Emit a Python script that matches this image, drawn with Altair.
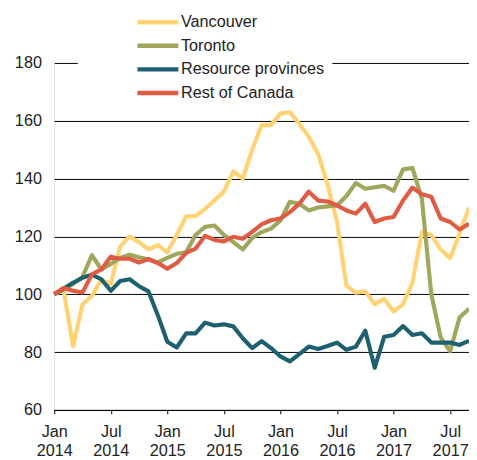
import altair as alt
import pandas as pd

# ---- data (monthly index, Jan 2014 = 100) ----
series_names = ["Vancouver", "Toronto", "Resource provinces", "Rest of Canada"]
series_colors = ["#FFD374", "#A0A65B", "#1E6070", "#DF5B44"]

month_idx = list(range(45))  # Jan 2014 ... Sep 2017

vancouver = [100, 101.5, 82, 96.5, 99.5, 105, 103.5, 116.5, 120, 118, 115.5, 117, 114.5, 120.5, 127,
             127, 129.5, 132.5, 135.5, 142.5, 140, 150, 158.5, 158.5, 162.5, 163, 159, 154.5, 148.5, 138,
             125, 103, 100.5, 101, 96.5, 98.5, 94, 96.5, 104, 121.5, 120.5, 115.5, 112.5, 121, 130]
toronto = [100, 101.8, 103.5, 106, 113.5, 108.6, 110.5, 112.6, 113.7, 112.8, 112, 111, 112.6, 114, 114.5,
           120.5, 123.3, 123.8, 120.5, 118, 115.5, 119.5, 121.5, 122.7, 125.5, 132, 131.3, 129, 130, 130.4,
           130.7, 134, 138.5, 136.5, 137, 137.5, 135.8, 143.2, 143.7, 133, 100, 85, 80.3, 92, 95]
resource = [100, 102, 104, 105.7, 106.8, 105.2, 101.2, 104.6, 105.2, 102.8, 101, 92.7, 83.6, 81.6, 86.5,
            86.5, 90.2, 89.2, 89.6, 88.9, 84.8, 81.4, 83.8, 81.4, 78.5, 76.8, 79.3, 81.9, 81.1, 82.1,
            83.3, 80.8, 81.9, 87.4, 74.6, 85.3, 85.9, 89, 85.9, 86.5, 83.3, 83.3, 83.3, 82.5, 83.9]
rest = [100, 102.2, 101.2, 100.6, 106.9, 108.6, 113, 112.3, 112.3, 111, 112.2, 110.8, 108.8, 110.8, 114.3,
        115.8, 120.2, 118.8, 118.3, 119.9, 119.2, 121.6, 124.2, 125.6, 126.2, 128.4, 131.3, 135.5, 132.4, 132.1,
        130.7, 129, 127.9, 131.3, 125, 126.2, 126.7, 132.4, 136.9, 134.6, 133.7, 126.2, 125, 122.4, 124.4]

x_tick_pos = [0, 6, 12, 18, 24, 30, 36, 42]
x_tick_labels = [["Jan", "2014"], ["Jul", "2014"], ["Jan", "2015"], ["Jul", "2015"],
                 ["Jan", "2016"], ["Jul", "2016"], ["Jan", "2017"], ["Jul", "2017"]]
y_ticks = [60, 80, 100, 120, 140, 160, 180]

# ---- long table ----
rows = []
for name, vals in zip(series_names, [vancouver, toronto, resource, rest]):
    for m, v in zip(month_idx, vals):
        rows.append({"month": m, "value": v, "series": name})
df = pd.DataFrame(rows)

label_expr = "[" + ",".join("['%s','%s']" % (a, b) for a, b in x_tick_labels) + "][datum.value/6]"

FONT = "Liberation Sans"
FS = 16.5

chart = alt.Chart(df).mark_line(strokeWidth=4.2, strokeJoin="round").encode(
    x=alt.X("month:Q",
            scale=alt.Scale(domain=[0, 44], nice=False, zero=False),
            axis=alt.Axis(values=x_tick_pos, labelExpr=label_expr, title=None, grid=False,
                          domain=True, domainColor="black", domainWidth=1,
                          ticks=True, tickColor="black", tickSize=4, tickWidth=1,
                          labelFontSize=FS, labelLineHeight=19, labelPadding=10,
                          labelAngle=0, labelBaseline="top", labelColor="#222222",
                          labelFlush=False, labelOverlap=False, labelFont=FONT)),
    y=alt.Y("value:Q",
            scale=alt.Scale(domain=[60, 180], nice=False, zero=False),
            axis=alt.Axis(values=y_ticks, title=None, grid=True, gridColor="black", gridWidth=1,
                          gridOpacity=1, domain=False, ticks=False, labelPadding=13,
                          labelFontSize=FS, labelColor="#222222", labelFont=FONT)),
    color=alt.Color("series:N",
                    scale=alt.Scale(domain=series_names, range=series_colors),
                    sort=series_names,
                    legend=alt.Legend(orient="none", legendX=24, legendY=-60, title=None,
                                      fillColor="white", padding=8, symbolOffset=63,
                                      symbolType="M-2.6,0H2.6", symbolSize=256,
                                      symbolStrokeWidth=4.5, labelOffset=13, rowPadding=4,
                                      labelFontSize=FS, labelColor="#222222", labelFont=FONT)),
    order=alt.Order("month:Q"),
).properties(
    width=422, height=353,
    autosize=alt.AutoSizeParams(type="none"),
    padding={"left": 47, "top": 52, "right": 0, "bottom": 46},
).configure_view(stroke=None).configure(font=FONT, background="white")

chart.save("out.html", embed_options={"renderer": "svg", "actions": False})
